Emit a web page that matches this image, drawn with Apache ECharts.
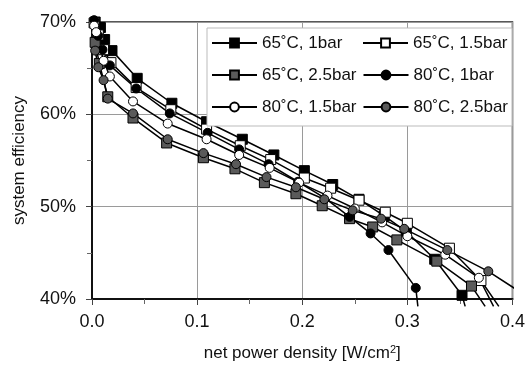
<!DOCTYPE html>
<html>
<head>
<meta charset="utf-8">
<script src="https://cdn.jsdelivr.net/npm/echarts@6/dist/echarts.min.js"></script>
<style>html,body{margin:0;padding:0;background:#fff}#c{width:528px;height:367px}</style>
</head>
<body>
<div id="c"></div>
<script>
// ---- data (x: net power density W/cm2, y: system efficiency %) ----
var seriesNames = ['65˚C, 1bar', '65˚C, 1.5bar', '65˚C, 2.5bar', '80˚C, 1bar', '80˚C, 1.5bar', '80˚C, 2.5bar'];
var s65_1 = [[0.003,70.0],[0.008,69.4],[0.012,68.1],[0.019,66.9],[0.043,63.9],[0.076,61.2],[0.109,59.2],[0.143,57.3],[0.173,55.6],[0.202,53.9],[0.229,52.4],[0.254,50.8],[0.278,49.0],[0.299,47.3],[0.326,44.3],[0.352,40.4]];
var s65_15 = [[0.002,69.9],[0.006,68.6],[0.011,67.0],[0.018,65.6],[0.042,62.9],[0.075,60.5],[0.109,58.4],[0.141,56.6],[0.170,55.1],[0.202,53.1],[0.227,52.0],[0.254,50.7],[0.279,49.4],[0.300,48.2],[0.340,45.5],[0.370,42.0]];
var s65_25 = [[0.003,67.8],[0.007,65.5],[0.015,61.9],[0.039,59.6],[0.071,56.9],[0.106,55.3],[0.136,54.1],[0.164,52.6],[0.194,51.4],[0.219,50.1],[0.245,48.7],[0.267,47.8],[0.290,46.4],[0.328,44.1],[0.361,41.4]];
var s80_1 = [[0.002,70.2],[0.006,68.5],[0.010,67.0],[0.017,65.3],[0.042,62.8],[0.074,60.1],[0.110,58.0],[0.140,56.2],[0.168,54.6],[0.196,52.7],[0.222,50.9],[0.245,48.9],[0.265,47.1],[0.282,45.3],[0.308,41.2]];
var s80_15 = [[0.002,69.6],[0.004,68.9],[0.011,65.8],[0.017,64.1],[0.039,61.4],[0.072,59.0],[0.109,57.3],[0.140,55.6],[0.169,54.2],[0.197,52.6],[0.224,51.2],[0.250,49.8],[0.276,48.3],[0.300,46.8],[0.336,44.8],[0.368,42.3]];
var s80_25 = [[0.003,66.9],[0.006,65.1],[0.011,63.7],[0.015,61.7],[0.039,60.1],[0.072,57.3],[0.106,55.8],[0.137,54.6],[0.166,53.2],[0.194,52.1],[0.221,50.8],[0.248,49.6],[0.275,48.7],[0.297,47.6],[0.338,45.3],[0.377,43.0]];
// line continuation beyond the last measured point (no marker)
var tails = [[0.355,39.2],[0.387,39.2],[0.374,39.2],[0.310,39.2],[0.382,39.2],[0.404,41.0]];
var xTicks = [0, 0.1, 0.2, 0.3, 0.4];
var yTicks = [40, 50, 60, 70];

var allData = [s65_1, s65_15, s65_25, s80_1, s80_15, s80_25];
var symbols = ['rect', 'rect', 'rect', 'circle', 'circle', 'circle'];
var fills = ['#000000', '#ffffff', '#5a5a5a', '#000000', '#ffffff', '#5a5a5a'];
var sizes = [10, 10, 10, 9, 9, 9];

var FONT = '"Liberation Sans", Arial, Helvetica, sans-serif';

var series = allData.map(function (d, i) {
  var data = d.map(function (p) { return p.slice(); });
  data.push({ value: tails[i], symbol: 'none' });
  return {
    name: seriesNames[i],
    type: 'line',
    clip: false,
    data: data,
    symbol: symbols[i],
    symbolSize: sizes[i],
    showAllSymbol: true,
    lineStyle: { color: '#000', width: 1.5 },
    itemStyle: { color: fills[i], borderColor: '#000', borderWidth: 1 },
    emphasis: { disabled: true },
    animation: false
  };
});

var chart = echarts.init(document.getElementById('c'), null, { renderer: 'canvas' });
chart.setOption({
  animation: false,
  backgroundColor: '#fff',
  textStyle: { fontFamily: FONT },
  grid: { left: 92, right: 14, top: 22, bottom: 64, show: true, borderColor: '#222', borderWidth: 1.5, backgroundColor: 'transparent' },
  legend: {
    left: 207, top: 28, width: 310,
    orient: 'horizontal',
    itemWidth: 45, itemHeight: 11, itemGap: 6,
    padding: [2, 4, 6, 4],
    backgroundColor: '#fff', borderColor: '#bbb', borderWidth: 1,
    textStyle: { fontFamily: FONT, fontSize: 17, color: '#111', width: 94, lineHeight: 26 },
    data: seriesNames
  },
  xAxis: {
    type: 'value', min: xTicks[0], max: xTicks[xTicks.length - 1], interval: 0.1,
    name: 'net power density [W/cm{sup|2}]',
    nameLocation: 'middle', nameGap: 45,
    nameTextStyle: { fontFamily: FONT, fontSize: 17, color: '#111', rich: { sup: { fontSize: 11, verticalAlign: 'top', padding: [0, 0, 8, 0], color: '#111' } } },
    axisLine: { lineStyle: { color: '#111', width: 2 } },
    axisTick: { show: true, length: 6, lineStyle: { color: '#444' } },
    minorTick: { show: true, splitNumber: 2, length: 5, lineStyle: { color: '#666' } },
    splitLine: { show: true, lineStyle: { color: '#9a9a9a', width: 1 } },
    axisLabel: { fontFamily: FONT, fontSize: 18, color: '#111', margin: 14, formatter: function (v) { return v.toFixed(1); } }
  },
  yAxis: {
    type: 'value', min: yTicks[0], max: yTicks[yTicks.length - 1], interval: 10,
    name: 'system efficiency',
    nameLocation: 'middle', nameGap: 64, nameRotate: 90,
    nameTextStyle: { fontFamily: FONT, fontSize: 17, color: '#111' },
    axisLine: { show: true, lineStyle: { color: '#111', width: 2 } },
    axisTick: { show: true, length: 6, lineStyle: { color: '#444' } },
    minorTick: { show: true, splitNumber: 2, length: 5, lineStyle: { color: '#666' } },
    splitLine: { show: true, lineStyle: { color: '#9a9a9a', width: 1 } },
    axisLabel: { fontFamily: FONT, fontSize: 18, color: '#111', margin: 16, formatter: '{value}%' }
  },
  series: series
});
</script>
</body>
</html>
